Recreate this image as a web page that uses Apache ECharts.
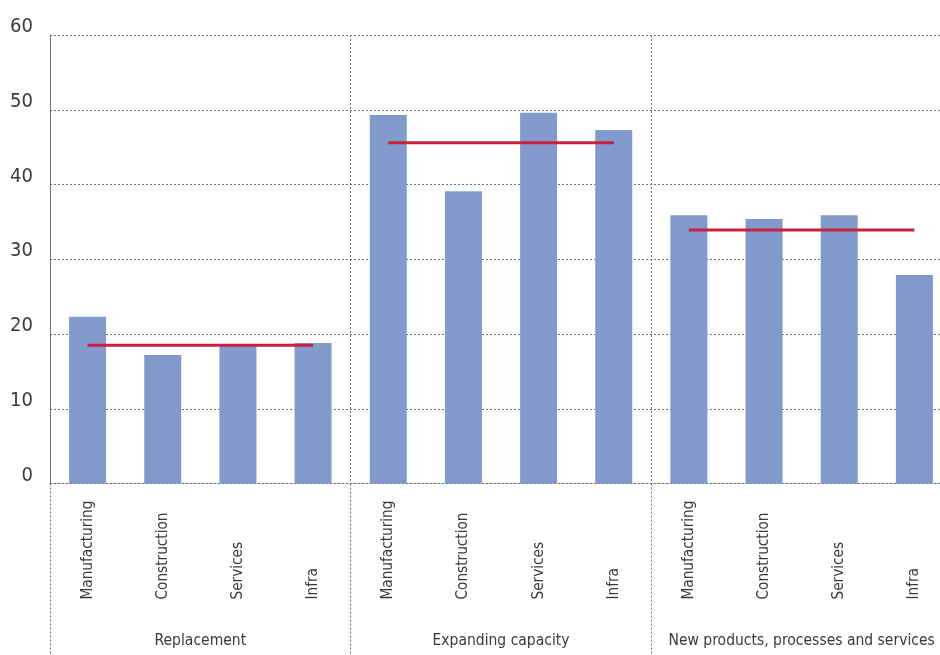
<!DOCTYPE html>
<html>
<head>
<meta charset="utf-8">
<title>Investment motives by sector</title>
<script src="https://cdn.jsdelivr.net/npm/echarts@6/dist/echarts.min.js"></script>
<style>
  html, body { margin: 0; padding: 0; background: #fff; }
  #chart { width: 940px; height: 655px; }
</style>
</head>
<body>
<div id="chart"></div>
<script>
// Sectors repeated inside each motive group
const sectors = ['Manufacturing', 'Construction', 'Services', 'Infra'];
const groups = ['Replacement', 'Expanding capacity', 'New products, processes and services'];

// Share of firms (%) per sector, one array per motive
const replacement = [22.3, 17.2, 18.6, 18.8];
const expandingCapacity = [49.3, 39.1, 49.6, 47.3];
const newProducts = [35.9, 35.4, 35.9, 27.9];

// Overall average for each motive (red reference lines)
const groupAverage = [18.5, 45.6, 33.9];

const yTicks = { min: 0, max: 60, interval: 10 };

const FONT = '"Liberation Sans Narrow", "DejaVu Sans Condensed", "Noto Sans", sans-serif';
const TEXT = '#3a3a3a';
const GRID_LINE = { color: '#707070', width: 1, type: [2, 2] };

const categories = [];
groups.forEach(() => sectors.forEach(s => categories.push(s)));
const barValues = [].concat(replacement, expandingCapacity, newProducts);

// One line series per group so the average lines stay separate
const averageSeries = groupAverage.map((v, g) => {
  const data = categories.map((_, i) => (Math.floor(i / sectors.length) === g ? v : null));
  return {
    type: 'line',
    data: data,
    xAxisIndex: 0,
    symbol: 'none',
    connectNulls: false,
    silent: true,
    z: 5,
    lineStyle: { color: '#c8213f', width: 3 }
  };
});

const chart = echarts.init(document.getElementById('chart'), null, { renderer: 'canvas' });
chart.setOption({
  animation: false,
  grid: {
    left: 50, right: -12, top: 35, bottom: 171.5,
    containLabel: false,
    outerBoundsMode: 'none'
  },
  xAxis: [
    {
      type: 'category',
      data: categories,
      position: 'bottom',
      axisLine: { show: true, lineStyle: GRID_LINE },
      axisTick: { show: false },
      splitLine: { show: false },
      axisLabel: {
        interval: 0,
        rotate: 90,
        align: 'left',
        verticalAlign: 'middle',
        margin: 116,
        fontFamily: FONT,
        fontSize: 15.2,
        color: TEXT
      }
    },
    {
      type: 'category',
      data: groups,
      position: 'bottom',
      boundaryGap: true,
      axisLine: { show: false },
      axisTick: { show: true, interval: 0, length: 172, lineStyle: GRID_LINE },
      splitLine: { show: true, interval: 0, lineStyle: GRID_LINE },
      axisLabel: {
        interval: 0,
        margin: 149,
        verticalAlign: 'top',
        fontFamily: FONT,
        fontSize: 15.5,
        color: TEXT
      }
    }
  ],
  yAxis: {
    type: 'value',
    min: yTicks.min,
    max: yTicks.max,
    interval: yTicks.interval,
    axisLine: { show: true, lineStyle: GRID_LINE },
    axisTick: { show: false },
    splitLine: { show: true, lineStyle: GRID_LINE },
    axisLabel: {
      margin: 17,
      verticalAlign: 'bottom',
      padding: [0, 0, -2, 0],
      fontFamily: FONT,
      fontSize: 20,
      color: TEXT
    }
  },
  series: [
    {
      type: 'bar',
      data: barValues,
      xAxisIndex: 0,
      barWidth: 37,
      itemStyle: { color: '#8199cb' },
      z: 2
    }
  ].concat(averageSeries)
});
</script>
</body>
</html>
